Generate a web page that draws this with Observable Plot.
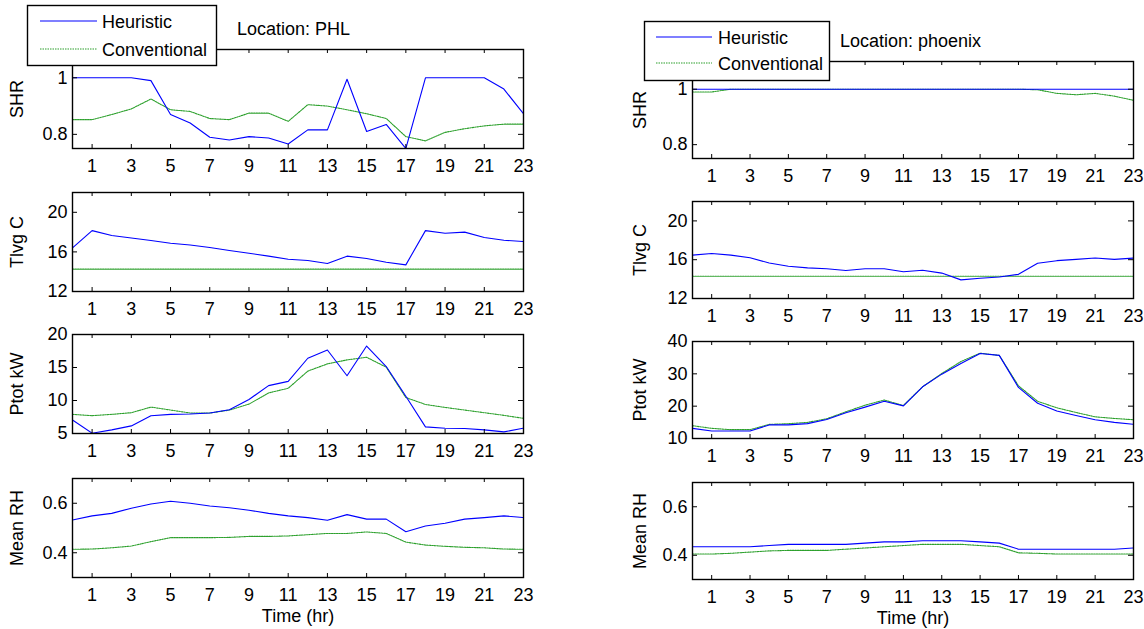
<!DOCTYPE html>
<html><head><meta charset="utf-8">
<script src="https://cdn.jsdelivr.net/npm/d3@7"></script>
<script src="https://cdn.jsdelivr.net/npm/@observablehq/plot@0.6"></script>
<style>
body{margin:0;background:#fff;}
#root{position:relative;width:1144px;height:629px;overflow:hidden;font-family:"Liberation Sans",Arial,sans-serif;background:#fff;}
#root > svg{position:absolute;}
</style></head><body><div id="root"></div>
<script>
// ---- data ----
const hours = [0,1,2,3,4,5,6,7,8,9,10,11,12,13,14,15,16,17,18,19,20,21,22,23];
const xTicks = [1,3,5,7,9,11,13,15,17,19,21,23];
const seriesNames = ["Heuristic", "Conventional"];
const locations = ["PHL", "phoenix"];
const rowLabels = ["SHR", "Tlvg C", "Ptot kW", "Mean RH"];
const xLabel = "Time (hr)";

const shrTicks = [0.8, 1];
const tlvgTicks = [12, 16, 20];
const phlPtotTicks = [5, 10, 15, 20];
const phxPtotTicks = [10, 20, 30, 40];
const rhTicks = [0.4, 0.6];

const phlShrHeur = [1.0,1.0,1.0,1.0,0.99,0.87,0.84,0.79,0.78,0.792,0.787,0.766,0.816,0.816,0.995,0.81,0.835,0.75,1.0,1.0,1.0,1.0,0.96,0.873];
const phlShrConv = [0.852,0.852,0.87,0.89,0.925,0.887,0.881,0.856,0.852,0.875,0.875,0.846,0.905,0.9,0.887,0.873,0.856,0.792,0.777,0.807,0.82,0.83,0.836,0.836];
const phlTlvgHeur = [16.4,18.15,17.65,17.4,17.15,16.87,16.7,16.44,16.14,15.87,15.57,15.26,15.13,14.83,15.57,15.33,14.96,14.69,18.15,17.88,18.0,17.45,17.18,17.05];
const phlTlvgConv = [14.26,14.26,14.26,14.26,14.26,14.26,14.26,14.26,14.26,14.26,14.26,14.26,14.26,14.26,14.26,14.26,14.26,14.26,14.26,14.26,14.26,14.26,14.26,14.26];
const phlPtotHeur = [7.05,5.05,5.55,6.15,7.7,7.9,7.95,8.1,8.6,10.15,12.25,12.9,16.4,17.65,13.75,18.25,15.15,10.65,6.0,5.8,5.75,5.55,5.25,5.8];
const phlPtotConv = [7.9,7.7,7.9,8.15,9.0,8.55,8.1,8.1,8.55,9.45,11.15,11.85,14.45,15.55,16.15,16.55,15.05,10.45,9.4,8.95,8.55,8.15,7.75,7.3];
const phlRhHeur = [0.532,0.549,0.559,0.58,0.597,0.608,0.6,0.589,0.582,0.572,0.559,0.549,0.542,0.531,0.554,0.536,0.536,0.485,0.508,0.519,0.536,0.542,0.549,0.542];
const phlRhConv = [0.414,0.415,0.42,0.427,0.445,0.461,0.461,0.461,0.462,0.466,0.466,0.468,0.473,0.478,0.478,0.484,0.478,0.443,0.431,0.426,0.422,0.42,0.415,0.414];

const phxShrHeur = [1,1,1,1,1,1,1,1,1,1,1,1,1,1,1,1,1,1,1,1,1,1,1,1];
const phxShrConv = [0.99,0.99,1,1,1,1,1,1,1,1,1,1,1,1,1,1,1,1,0.998,0.985,0.98,0.985,0.975,0.96];
const phxTlvgHeur = [16.47,16.64,16.47,16.2,15.66,15.33,15.16,15.06,14.89,15.06,15.06,14.76,14.92,14.62,13.92,14.08,14.22,14.49,15.63,15.9,16.03,16.17,16.03,16.17];
const phxTlvgConv = [14.3,14.3,14.3,14.3,14.3,14.3,14.3,14.3,14.3,14.3,14.3,14.3,14.3,14.3,14.3,14.3,14.3,14.3,14.3,14.3,14.3,14.3,14.3,14.3];
const phxPtotHeur = [13.14,12.3,12.3,12.3,14.2,14.2,14.6,15.9,17.95,19.7,21.5,20.1,26.0,29.9,33.2,36.3,35.7,25.8,20.9,18.5,17.1,15.8,15.0,14.4];
const phxPtotConv = [13.96,13.14,12.73,12.73,14.37,14.58,14.98,16.1,18.26,20.3,21.9,20.2,26.0,30.1,33.8,36.4,35.7,26.3,21.5,19.5,18.05,16.7,16.2,15.8];
const phxRhHeur = [0.435,0.435,0.435,0.435,0.44,0.445,0.445,0.445,0.445,0.45,0.455,0.455,0.46,0.46,0.46,0.455,0.45,0.425,0.425,0.425,0.425,0.425,0.425,0.43];
const phxRhConv = [0.405,0.405,0.408,0.413,0.418,0.42,0.42,0.42,0.425,0.43,0.435,0.44,0.445,0.445,0.445,0.44,0.435,0.41,0.408,0.405,0.405,0.405,0.405,0.405];

// ---- style ----
const FONT = '"Liberation Sans", Arial, Helvetica, sans-serif';
const FS = 18;
const BLUE = "#0000ff";
const GREEN = "#2ca02c";
const DASH = "1.5,1";

const root = document.getElementById("root");

function panel({x0, y0, w, h, domain, yTicks, ylabel, ylabelDx, heur, conv, showX}) {
  const ml = 80, mr = 14, mt = 6, mb = 50;
  const rowsH = hours.map((x, i) => ({x, y: heur[i], s: seriesNames[0]}));
  const rowsC = hours.map((x, i) => ({x, y: conv[i], s: seriesNames[1]}));
  const marks = [
    Plot.line(rowsC, {x: "x", y: "y", stroke: GREEN, strokeWidth: 1.1, strokeDasharray: DASH, clip: true}),
    Plot.line(rowsH, {x: "x", y: "y", stroke: BLUE, strokeWidth: 1.1, clip: true}),
    Plot.frame({stroke: "black", strokeWidth: 1.4}),
    Plot.tickX(xTicks, {x: d => d, insetBottom: h - 4, stroke: "black"}),
    Plot.tickX(xTicks, {x: d => d, insetTop: h - 4, stroke: "black"}),
    Plot.tickY(yTicks, {y: d => d, insetRight: w - 5, stroke: "black"}),
    Plot.tickY(yTicks, {y: d => d, insetLeft: w - 5, stroke: "black"}),
    Plot.axisX({ticks: xTicks, tickSize: 0, tickPadding: 11, label: null, tickFormat: d => String(d)}),
    Plot.axisY({ticks: yTicks, tickSize: 0, tickPadding: 5, label: null, tickFormat: d => String(d)}),
    Plot.text([ylabel], {text: d => d, frameAnchor: "left", rotate: -90, dx: ylabelDx, textAnchor: "middle", lineAnchor: "middle", fill: "black"})
  ];
  if (showX) marks.push(Plot.text([xLabel], {text: d => d, frameAnchor: "bottom", dy: 39, textAnchor: "middle", lineAnchor: "middle", fill: "black"}));
  const p = Plot.plot({
    width: w + ml + mr, height: h + mt + mb,
    marginLeft: ml, marginRight: mr, marginTop: mt, marginBottom: mb,
    style: {fontFamily: FONT, fontSize: FS + "px", background: "transparent", overflow: "visible", color: "black"},
    x: {domain: [0, 23]},
    y: {domain},
    marks
  });
  p.style.position = "absolute";
  p.style.left = (x0 - ml) + "px";
  p.style.top = (y0 - mt) + "px";
  p.style.maxWidth = "none";
  root.appendChild(p);
}

const L = {x0: 72, w: 451, h: 99, tops: [49, 192, 334, 478], dx: -55};
const R = {x0: 692, w: 441, h: 97, tops: [61, 201, 341, 482], dx: -52};

const leftSets = [
  [phlShrHeur, phlShrConv, [0.75, 1.1], shrTicks],
  [phlTlvgHeur, phlTlvgConv, [12, 22], tlvgTicks],
  [phlPtotHeur, phlPtotConv, [5, 20], phlPtotTicks],
  [phlRhHeur, phlRhConv, [0.3, 0.7], rhTicks]
];
const rightSets = [
  [phxShrHeur, phxShrConv, [0.75, 1.1], shrTicks],
  [phxTlvgHeur, phxTlvgConv, [12, 22], tlvgTicks],
  [phxPtotHeur, phxPtotConv, [10, 40], phxPtotTicks],
  [phxRhHeur, phxRhConv, [0.3, 0.7], rhTicks]
];
[[L, leftSets], [R, rightSets]].forEach(([C, sets]) => {
  sets.forEach(([heur, conv, domain, yTicks], r) => {
    panel({x0: C.x0, y0: C.tops[r], w: C.w, h: C.h, domain, yTicks, ylabel: rowLabels[r], ylabelDx: C.dx, heur, conv, showX: r === 3});
  });
});

// ---- titles & legends overlay ----
const NS = "http://www.w3.org/2000/svg";
const ov = document.createElementNS(NS, "svg");
ov.setAttribute("width", 1144); ov.setAttribute("height", 629);
ov.style.left = "0px"; ov.style.top = "0px";
ov.style.fontFamily = FONT; ov.style.fontSize = FS + "px";
function el(tag, attrs, text) {
  const e = document.createElementNS(NS, tag);
  for (const k in attrs) e.setAttribute(k, attrs[k]);
  if (text != null) e.textContent = text;
  ov.appendChild(e);
  return e;
}
el("text", {x: 237, y: 35, fill: "black"}, "Location: " + locations[0]);
el("text", {x: 840, y: 47, fill: "black"}, "Location: " + locations[1]);
function legend(bx, by, bw, bh, lx1, lx2, ty, y1, y2) {
  el("rect", {x: bx + 0.5, y: by + 0.5, width: bw, height: bh, fill: "white", stroke: "black", "stroke-width": 1.4});
  el("line", {x1: lx1, x2: lx2, y1: y1, y2: y1, stroke: BLUE, "stroke-width": 1.1});
  el("line", {x1: lx1, x2: lx2, y1: y2, y2: y2, stroke: GREEN, "stroke-width": 1.1, "stroke-dasharray": DASH});
  el("text", {x: ty, y: y1 + 6.5, fill: "black"}, seriesNames[0]);
  el("text", {x: ty, y: y2 + 6.5, fill: "black"}, seriesNames[1]);
}
legend(27, 5, 189, 60, 40, 97, 102, 21, 49);
legend(644, 21, 185, 59, 656, 712, 718, 37, 63);
root.appendChild(ov);
</script></body></html>
